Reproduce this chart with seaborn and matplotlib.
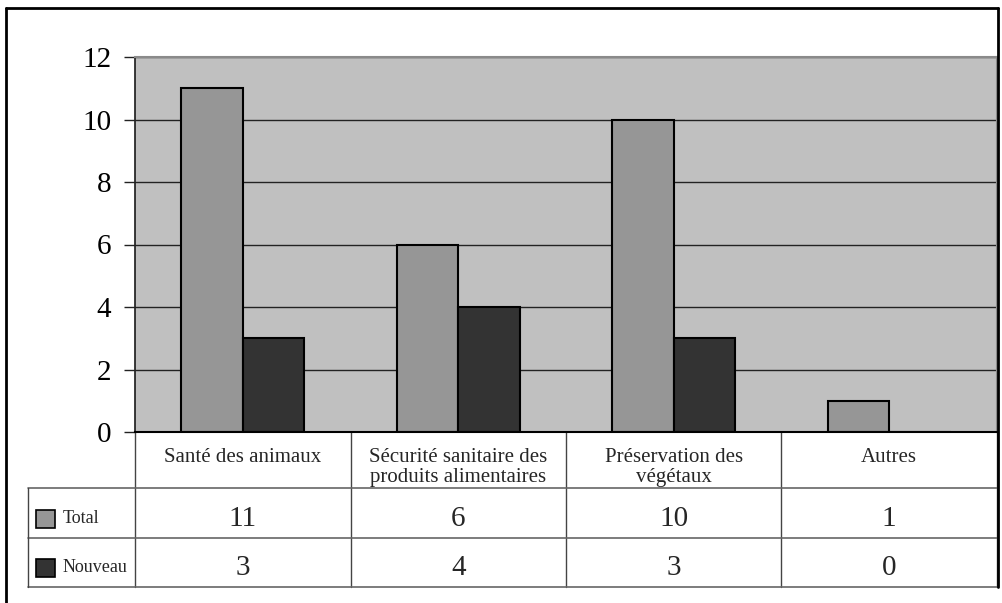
import pandas as pd
import seaborn as sns
import matplotlib.pyplot as plt
import matplotlib.transforms as mtransforms
from matplotlib.lines import Line2D
from matplotlib.patches import Rectangle

categories = ['Santé des animaux',
              'Sécurité sanitaire des\nproduits alimentaires',
              'Préservation des\nvégétaux',
              'Autres']
series = ['Total', 'Nouveau']
total = [11, 6, 10, 1]
nouveau = [3, 4, 3, 0]
colors = ['#969696', '#333333']
yticks = [0, 2, 4, 6, 8, 10, 12]

W, H = 1003, 603


def fx(x):
    return x / W


def fy(y):
    return 1 - y / H


sns.set_theme(style='white')
plt.rcParams['font.family'] = ['Liberation Serif', 'DejaVu Serif']

df = pd.DataFrame({
    'Catégorie': categories * 2,
    'Série': [s for s in series for _ in categories],
    'Valeur': total + nouveau,
})

fig = plt.figure(figsize=(10.03, 6.03), dpi=100)
fig.patch.set_facecolor('white')
ax = fig.add_axes([fx(135), fy(432), fx(997) - fx(135), fy(57) - fy(432)])

sns.barplot(data=df, x='Catégorie', y='Valeur', hue='Série', palette=colors,
            width=0.57, edgecolor='black', linewidth=1.5, ax=ax, legend=False,
            errorbar=None)

ax.set_facecolor('#c0c0c0')
ax.set_ylim(0, 12)
ax.set_xlim(-0.5, len(categories) - 0.5)
ax.set_yticks(yticks)
ax.set_xticks([])
ax.set_xlabel('')
ax.set_ylabel('')
ax.yaxis.grid(True, color='#222222', linewidth=1)
ax.set_axisbelow(True)
ax.tick_params(axis='y', left=True, length=8, width=1, color='#222222',
               pad=9, labelsize=21, labelcolor='black')
for side in ['top', 'right']:
    ax.spines[side].set_color('#8a8a8a')
    ax.spines[side].set_linewidth(1.5)
ax.spines['left'].set_color('#222222')
ax.spines['bottom'].set_color('black')
ax.spines['bottom'].set_linewidth(1.5)

# data table under the chart
trans = mtransforms.blended_transform_factory(ax.transData, fig.transFigure)
rows_y = [432, 488, 538, 587]
line_col = '#444444'
for i in range(len(categories) + 1):
    ax.add_artist(Line2D([i - 0.5, i - 0.5], [fy(432), fy(587)], transform=trans,
                         color=line_col, lw=1, clip_on=False))
for y in rows_y[1:]:
    fig.add_artist(Line2D([fx(28), fx(997)], [fy(y), fy(y)], color='#666666', lw=1.2))
fig.add_artist(Line2D([fx(28), fx(28)], [fy(488), fy(587)], color=line_col, lw=1))

for i, cat in enumerate(categories):
    ax.text(i, fy(448), cat, transform=trans, ha='center', va='top',
            fontsize=15, linespacing=1.1, clip_on=False)

for r, vals in enumerate([total, nouveau]):
    yc = (rows_y[r + 1] + rows_y[r + 2]) / 2 + 5.5
    for i, v in enumerate(vals):
        ax.text(i, fy(yc), str(v), transform=trans, ha='center', va='center',
                fontsize=21, clip_on=False)
    fig.add_artist(Rectangle((fx(36), fy(yc + 9)), fx(19), 18 / H,
                             facecolor=colors[r], edgecolor='black', lw=1.2))
    fig.text(fx(63), fy(yc), series[r], ha='left', va='center', fontsize=13)

# outer frame
fig.add_artist(Line2D([fx(6), fx(6)], [fy(8), 0], color='black', lw=2))
fig.add_artist(Line2D([fx(6), fx(998)], [fy(8), fy(8)], color='black', lw=2))
fig.add_artist(Line2D([fx(998), fx(998)], [fy(8), fy(587)], color='black', lw=2))

fig.savefig('out.png', dpi=100)
